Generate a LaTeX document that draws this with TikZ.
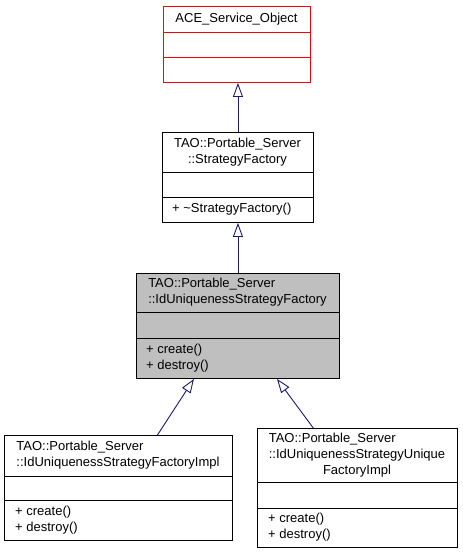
\documentclass[tikz,border=0pt]{standalone}
\usepackage{fontspec}
\setmainfont{Liberation Sans}
\usetikzlibrary{arrows.meta}
\definecolor{edge}{rgb}{0.098, 0.098, 0.439}
\definecolor{shade}{rgb}{0.75, 0.75, 0.75}

\begin{document}
\begin{tikzpicture}[x=1pt, y=-1pt,
  classbox/.style={draw, line width=0.9pt, anchor=north west, inner sep=0pt, fill=white},
  divider/.style={line width=0.9pt},
  txt/.style={inner sep=0pt, font=\fontsize{13}{16}\selectfont},
  member/.style={txt, anchor=west, align=left},
  inherit/.style={draw=edge, line width=0.9pt, -{Triangle[open, length=14pt, width=10pt]}}]
\useasboundingbox (0, 0) rectangle (463, 555);
% ACE_Service_Object
\node [classbox, draw=red, minimum width=147pt, minimum height=76pt] (aso) at (163, 6) {};
\draw [divider, red] (163, 32) -- (310, 32) (163, 57) -- (310, 57);
\node [txt] (aso-name) at (236.5, 19) {ACE\_Service\_Object};
% StrategyFactory
\node [classbox, minimum width=151pt, minimum height=90pt] (sf) at (162, 132) {};
\draw [divider] (162, 172) -- (313, 172) (162, 197) -- (313, 197);
\node [txt, align=center] (sf-name) at (237.5, 152) {TAO::Portable\_Server\\::StrategyFactory};
\node [member] (sf-ops) at (172, 209.5) {+ \textasciitilde StrategyFactory()};
% IdUniquenessStrategyFactory
\node [classbox, fill=shade, minimum width=203pt, minimum height=105pt] (iusf) at (136, 273) {};
\draw [divider] (136, 312) -- (339, 312) (136, 338) -- (339, 338);
\node [txt, align=left] (iusf-name) at (237.5, 292.5) {TAO::Portable\_Server\\::IdUniquenessStrategyFactory};
\node [member] (iusf-ops) at (146, 358) {+ create()\\+ destroy()};
% IdUniquenessStrategyFactoryImpl
\node [classbox, minimum width=228pt, minimum height=105pt] (iusfi) at (4, 435) {};
\draw [divider] (4, 476) -- (232, 476) (4, 500) -- (232, 500);
\node [txt, align=left] (iusfi-name) at (118, 455.5) {TAO::Portable\_Server\\::IdUniquenessStrategyFactoryImpl};
\node [member] (iusfi-ops) at (15, 520) {+ create()\\+ destroy()};
% IdUniquenessStrategyUniqueFactoryImpl
\node [classbox, minimum width=200pt, minimum height=119pt] (iusufi) at (257, 428) {};
\draw [divider] (257, 482) -- (457, 482) (257, 508) -- (457, 508);
\node [txt] (iusufi-name) at (357, 455.5) {\begin{tabular}{@{}l@{}}TAO::Portable\_Server\\::IdUniquenessStrategyUnique\\\multicolumn{1}{@{}c@{}}{FactoryImpl}\end{tabular}};
\node [member] (iusufi-ops) at (268, 527.5) {+ create()\\+ destroy()};
% inheritance
\draw [inherit] (sf.north) -- (sf.north |- aso.south);
\draw [inherit] (iusf.north) -- (sf.south);
\draw [inherit] (iusfi.north) ++(39, 0) -- ([xshift=-44pt] iusf.south);
\draw [inherit] (iusufi) -- (iusf);
\end{tikzpicture}
\end{document}
